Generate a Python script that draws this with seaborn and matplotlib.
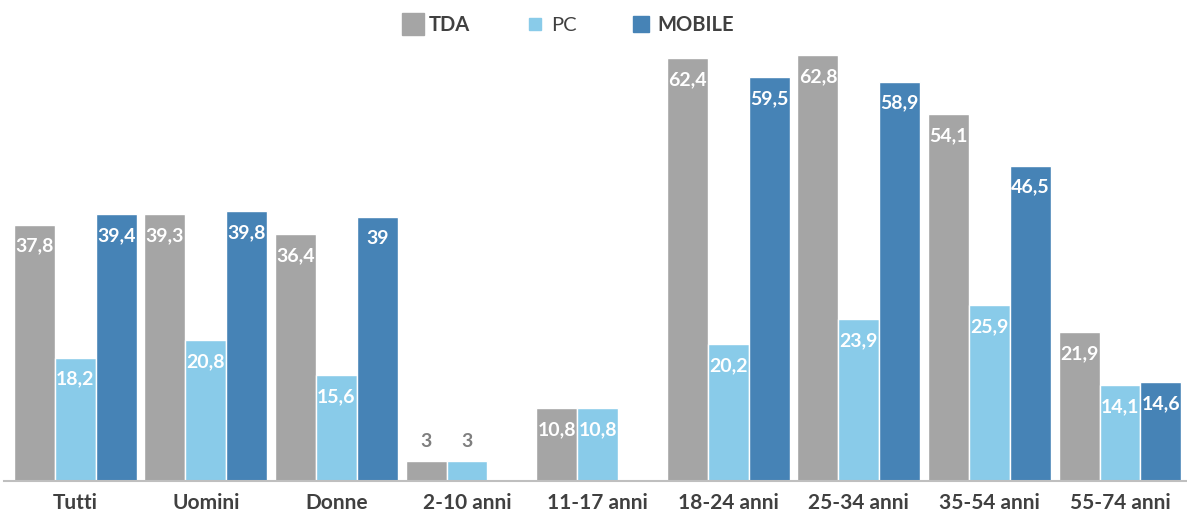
import pandas as pd
import matplotlib.pyplot as plt
import seaborn as sns
from matplotlib.lines import Line2D

# Data
categories = ['Tutti', 'Uomini', 'Donne', '2-10 anni', '11-17 anni',
              '18-24 anni', '25-34 anni', '35-54 anni', '55-74 anni']
tda = [37.8, 39.3, 36.4, 3, 10.8, 62.4, 62.8, 54.1, 21.9]
pc = [18.2, 20.8, 15.6, 3, 10.8, 20.2, 23.9, 25.9, 14.1]
mobile = [39.4, 39.8, 39, None, None, 59.5, 58.9, 46.5, 14.6]
series = ['TDA', 'PC', 'MOBILE']
colors = ['#A5A5A5', '#89CBE9', '#4683B6']

rows = []
for name, vals in zip(series, [tda, pc, mobile]):
    for cat, v in zip(categories, vals):
        if v is not None:
            rows.append({'cat': cat, 'serie': name, 'val': v})
df = pd.DataFrame(rows)

sns.set_style('white')
plt.rcParams['font.family'] = ['Lato', 'DejaVu Sans']

fig = plt.figure(figsize=(11.87, 5.26), dpi=100)
ax = fig.add_axes([0.0035, 0.0856, 0.9965, 0.838])

sns.barplot(data=df, x='cat', y='val', hue='serie', order=categories,
            hue_order=series, palette=colors, width=0.94, gap=0,
            saturation=1, legend=False, ax=ax)

ax.set_xlim(-0.544, 8.513)
ax.set_ylim(0, 65.0)

# Value labels
for container in ax.containers:
    for bar in container:
        h = bar.get_height()
        if pd.isna(h) or h == 0:
            continue
        txt = f'{h:g}'.replace('.', ',')
        x = bar.get_x() + bar.get_width() / 2
        if h < 5:
            ax.annotate(txt, (x, h), xytext=(0, 14), textcoords='offset points',
                        ha='center', va='center', fontsize=14,
                        fontweight='bold', color='#7F7F7F')
        else:
            ax.annotate(txt, (x, h), xytext=(0, -15.5), textcoords='offset points',
                        ha='center', va='center', fontsize=14,
                        fontweight='bold', color='white')

for s in ['top', 'right', 'left']:
    ax.spines[s].set_visible(False)
ax.spines['bottom'].set_color('#BFBFBF')
ax.spines['bottom'].set_linewidth(1.5)
ax.set_yticks([])
ax.set_xlabel('')
ax.set_ylabel('')
ax.tick_params(axis='x', length=0, pad=9)
for lab in ax.get_xticklabels():
    lab.set_fontsize(15)
    lab.set_fontweight('bold')
    lab.set_color('#404040')

# Legend
handles = [
    Line2D([], [], marker='s', linestyle='', markersize=16, color=colors[0]),
    Line2D([], [], marker='s', linestyle='', markersize=9, color=colors[1]),
    Line2D([], [], marker='s', linestyle='', markersize=11, color=colors[2]),
]
leg = fig.legend(handles, series, loc='center', bbox_to_anchor=(0.478, 0.952),
                 ncol=3, frameon=False, fontsize=14.5, handletextpad=0.2,
                 columnspacing=2.6, handlelength=1.2)
for t, w in zip(leg.get_texts(), ['bold', 'normal', 'bold']):
    t.set_fontweight(w)
    t.set_color('#404040')

fig.savefig('out.png', dpi=100)
